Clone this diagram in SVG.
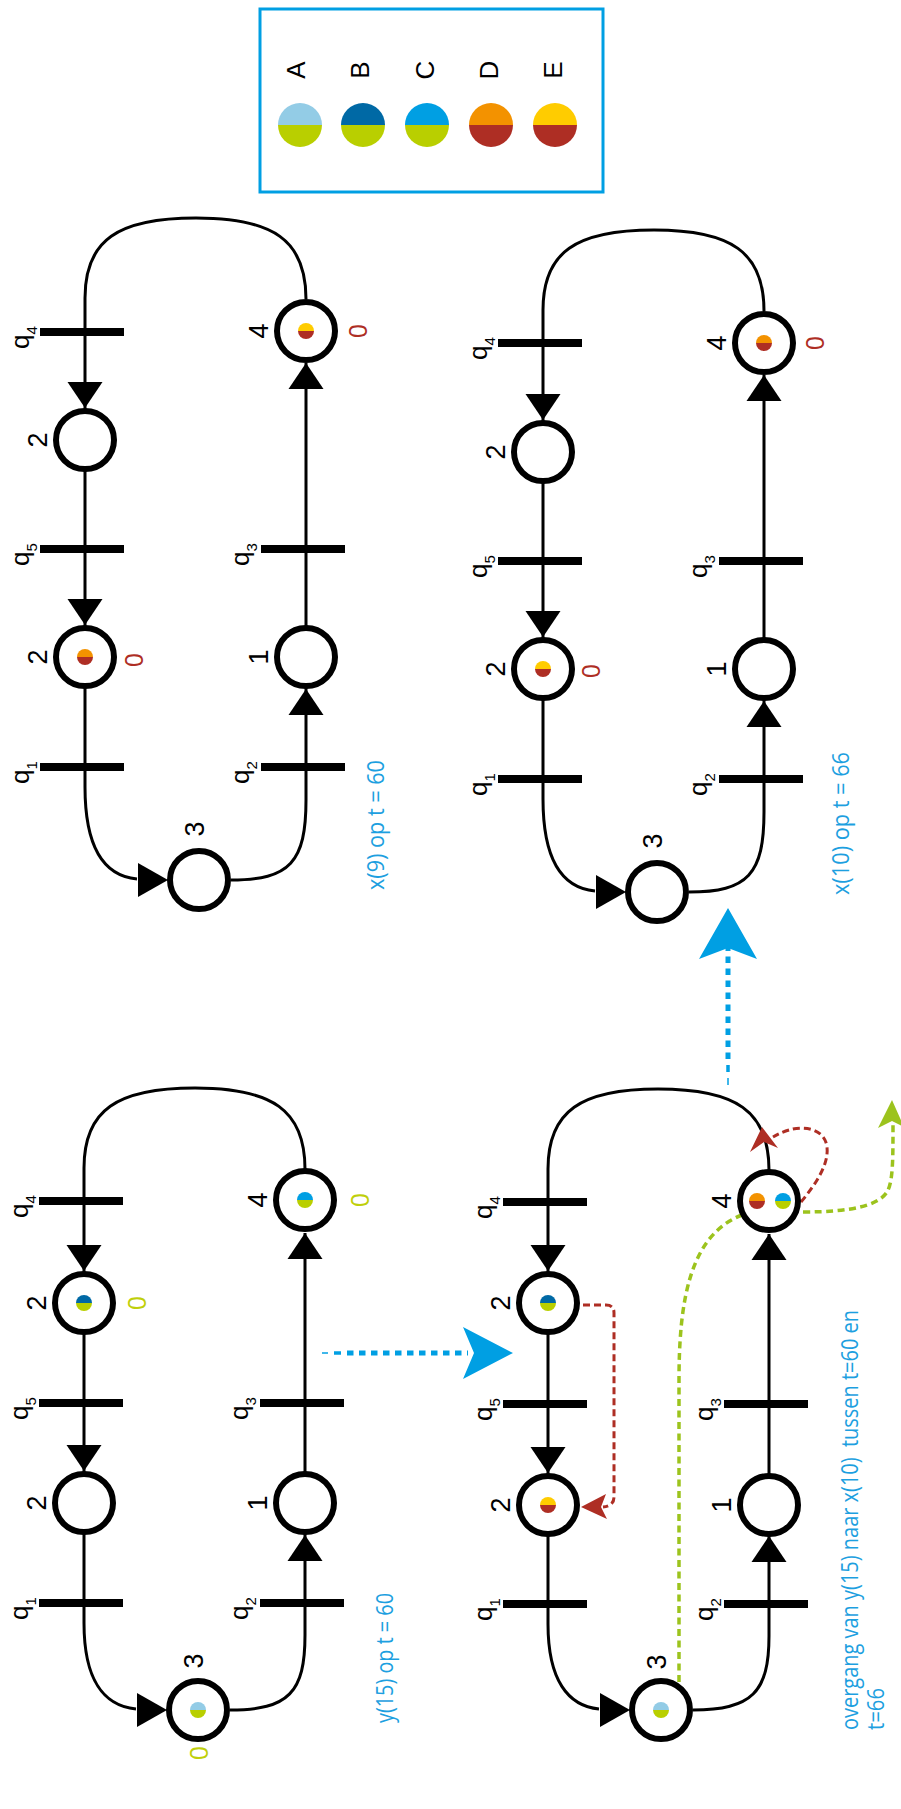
<svg xmlns="http://www.w3.org/2000/svg" xmlns:xlink="http://www.w3.org/1999/xlink" width="901" height="1809" viewBox="0 0 901 1809">
<style>
.ln{fill:none;stroke:#000;stroke-width:3}
.ah{fill:#000}
.pl{fill:#fff;stroke:#000;stroke-width:6}
.bar{fill:#000}
.lb{font-family:"Liberation Sans",Arial,sans-serif;font-size:27px;fill:#000}
.ql{font-family:"Liberation Sans",Arial,sans-serif;font-size:26px;fill:#000}
.sb{font-size:15px}
.lg{font-family:"Liberation Sans",Arial,sans-serif;font-size:26px;fill:#000}
.zr{font-family:"Open Sans","Liberation Sans",sans-serif;font-size:25px;fill:#ae2e24}
.zg{font-family:"Open Sans","Liberation Sans",sans-serif;font-size:25px;fill:#bfcf0a}
.tt{font-family:"Open Sans","Liberation Sans",sans-serif;font-size:24px;fill:#1d9fe0}
.bl{fill:none;stroke:#009fe3}
.rd{fill:none;stroke:#ae2e24;stroke-width:3;stroke-dasharray:7 4}
.gr{fill:none;stroke:#9cc31d;stroke-width:3.5;stroke-dasharray:7 4.5}
</style>
<defs>
<g id="tkA"><path d="M-8,0A8,8 0 0 1 8,0Z" fill="#93cce6"/><path d="M-8,0A8,8 0 0 0 8,0Z" fill="#b9cf00"/></g>
<g id="tkB"><path d="M-8,0A8,8 0 0 1 8,0Z" fill="#0069a5"/><path d="M-8,0A8,8 0 0 0 8,0Z" fill="#b9cf00"/></g>
<g id="tkC"><path d="M-8,0A8,8 0 0 1 8,0Z" fill="#009fe3"/><path d="M-8,0A8,8 0 0 0 8,0Z" fill="#b9cf00"/></g>
<g id="tkD"><path d="M-8,0A8,8 0 0 1 8,0Z" fill="#f39200"/><path d="M-8,0A8,8 0 0 0 8,0Z" fill="#ae2e24"/></g>
<g id="tkE"><path d="M-8,0A8,8 0 0 1 8,0Z" fill="#ffcc00"/><path d="M-8,0A8,8 0 0 0 8,0Z" fill="#ae2e24"/></g>
</defs>
<rect width="901" height="1809" fill="#fff"/>

<!-- legend -->
<g id="legend">
<rect x="260" y="9" width="343" height="183" fill="none" stroke="#009fe3" stroke-width="3"/>
<use xlink:href="#tkA" transform="translate(300,125) scale(2.75)"/>
<use xlink:href="#tkB" transform="translate(363,125) scale(2.75)"/>
<use xlink:href="#tkC" transform="translate(427,125) scale(2.75)"/>
<use xlink:href="#tkD" transform="translate(491,125) scale(2.75)"/>
<use xlink:href="#tkE" transform="translate(555,125) scale(2.75)"/>
<text class="lg" text-anchor="middle" transform="translate(305,70) rotate(-90)">A</text>
<text class="lg" text-anchor="middle" transform="translate(369,70) rotate(-90)">B</text>
<text class="lg" text-anchor="middle" transform="translate(434,70) rotate(-90)">C</text>
<text class="lg" text-anchor="middle" transform="translate(498,70) rotate(-90)">D</text>
<text class="lg" text-anchor="middle" transform="translate(562,70) rotate(-90)">E</text>
</g>

<!-- connectors -->
<g id="connectors">
<!-- net x(9) -->
<path class="ln" d="M137,879 C105,876 85,850 85,787 V298 C85,240 118,218 196,218 C273,218 306,240 306,299"/>
<path class="ln" d="M231,880 C290,880 306,862 306,800 V363"/>
<polygon class="ah" points="85,408 67.5,382 102.5,382"/>
<polygon class="ah" points="85,625 67.5,599 102.5,599"/>
<polygon class="ah" points="306,689 288.5,715 323.5,715"/>
<polygon class="ah" points="306,363 288.5,389 323.5,389"/>
<polygon class="ah" points="168,880 138,863 138,897"/>
<!-- net x(10) -->
<path class="ln" d="M595,891 C563,888 543,862 543,799 V310 C543,252 576,230 654,230 C731,230 764,252 764,311"/>
<path class="ln" d="M689,892 C748,892 764,874 764,812 V375"/>
<polygon class="ah" points="543,420 525.5,394 560.5,394"/>
<polygon class="ah" points="543,637 525.5,611 560.5,611"/>
<polygon class="ah" points="764,701 746.5,727 781.5,727"/>
<polygon class="ah" points="764,375 746.5,401 781.5,401"/>
<polygon class="ah" points="626,892 596,875 596,909"/>
<!-- net y(15) -->
<path class="ln" d="M136,1709 C104,1706 84,1680 84,1623 V1168 C84,1110 117,1088 195,1088 C272,1088 305,1110 305,1169"/>
<path class="ln" d="M230,1710 C289,1710 305,1692 305,1635 V1233"/>
<polygon class="ah" points="84,1271 66.5,1245 101.5,1245"/>
<polygon class="ah" points="84,1471 66.5,1445 101.5,1445"/>
<polygon class="ah" points="305,1535 287.5,1561 322.5,1561"/>
<polygon class="ah" points="305,1233 287.5,1259 322.5,1259"/>
<polygon class="ah" points="167,1710 137,1693 137,1727"/>
<!-- transition net -->
<path class="ln" d="M599,1709 C568,1706 548,1680 548,1624 V1169 C548,1111 581,1089 658,1089 C736,1089 769,1111 769,1170"/>
<path class="ln" d="M693,1710 C752,1710 769,1692 769,1636 V1234"/>
<polygon class="ah" points="548,1271 530.5,1245 565.5,1245"/>
<polygon class="ah" points="548,1473 530.5,1447 565.5,1447"/>
<polygon class="ah" points="769,1536 751.5,1562 786.5,1562"/>
<polygon class="ah" points="769,1234 751.5,1260 786.5,1260"/>
<polygon class="ah" points="630,1710 600,1693 600,1727"/>
<!-- token moves -->
<path class="rd" d="M583,1305 H606 Q614,1305 614,1313 V1497 Q614,1506 603,1507"/>
<path fill="#ae2e24" d="M581,1507 L606,1494 L601,1507 L607,1519Z"/>
<path class="rd" d="M801,1202 C815,1185 829,1165 827,1147 C825,1128 800,1121 773,1137"/>
<path fill="#ae2e24" d="M762,1127 L778,1148 L764,1142 L750,1152Z"/>
<path class="gr" d="M679,1682 V1380 C679,1300 690,1235 742,1215"/>
<path class="gr" d="M803,1212 C850,1212 878,1206 887,1192 C893,1182 893,1160 893,1124"/>
<path fill="#9cc31d" d="M892,1100 L904,1127 L892,1121 L878,1128Z"/>
<!-- state steps -->
<line class="bl" x1="322" y1="1353" x2="328" y2="1353" stroke-width="1.5"/>
<line class="bl" x1="334" y1="1353" x2="341" y2="1353" stroke-width="3.5"/>
<line class="bl" x1="347" y1="1353" x2="468" y2="1353" stroke-width="5" stroke-dasharray="6.5 5.5"/>
<path fill="#009fe3" d="M513,1353 L463,1327 L474,1353 L463,1379Z"/>
<line class="bl" x1="728" y1="1085" x2="728" y2="1078" stroke-width="1.5"/>
<line class="bl" x1="728" y1="1072" x2="728" y2="1065" stroke-width="3.5"/>
<line class="bl" x1="728" y1="1059" x2="728" y2="946" stroke-width="5" stroke-dasharray="6.5 5.5"/>
<path fill="#009fe3" d="M728,908 L757,959 L728,948 L699,959Z"/>
</g>

<!-- net x(9) op t = 60 -->
<g id="x9-p4"><circle class="pl" cx="306" cy="331" r="29"/><use xlink:href="#tkE" x="306" y="331"/><text class="lb" text-anchor="middle" transform="translate(268,331) rotate(-90)">4</text><text class="zr" text-anchor="middle" transform="translate(367,331) rotate(-90)">0</text></g>
<g id="x9-p2a"><circle class="pl" cx="85" cy="440" r="29"/><text class="lb" text-anchor="middle" transform="translate(47,440) rotate(-90)">2</text></g>
<g id="x9-p2b"><circle class="pl" cx="85" cy="657" r="29"/><use xlink:href="#tkD" x="85" y="657"/><text class="lb" text-anchor="middle" transform="translate(47,657) rotate(-90)">2</text><text class="zr" text-anchor="middle" transform="translate(143,660) rotate(-90)">0</text></g>
<g id="x9-p1"><circle class="pl" cx="306" cy="657" r="29"/><text class="lb" text-anchor="middle" transform="translate(268,657) rotate(-90)">1</text></g>
<g id="x9-p3"><circle class="pl" cx="199" cy="880" r="29"/><text class="lb" text-anchor="middle" transform="translate(204,829) rotate(-90)">3</text></g>
<g id="x9-q4"><rect class="bar" x="40" y="328" width="84" height="8"/><text class="ql" transform="translate(29,349) rotate(-90)">q<tspan class="sb" dy="8">4</tspan></text></g>
<g id="x9-q5"><rect class="bar" x="40" y="545" width="84" height="8"/><text class="ql" transform="translate(29,566) rotate(-90)">q<tspan class="sb" dy="8">5</tspan></text></g>
<g id="x9-q1"><rect class="bar" x="40" y="763" width="84" height="8"/><text class="ql" transform="translate(29,784) rotate(-90)">q<tspan class="sb" dy="8">1</tspan></text></g>
<g id="x9-q3"><rect class="bar" x="261" y="545" width="84" height="8"/><text class="ql" transform="translate(249,566) rotate(-90)">q<tspan class="sb" dy="8">3</tspan></text></g>
<g id="x9-q2"><rect class="bar" x="261" y="763" width="84" height="8"/><text class="ql" transform="translate(249,784) rotate(-90)">q<tspan class="sb" dy="8">2</tspan></text></g>
<text class="tt" transform="translate(384,890) rotate(-90)" textLength="130" lengthAdjust="spacingAndGlyphs">x(9) op t = 60</text>

<!-- net x(10) op t = 66 -->
<g id="x10-p4"><circle class="pl" cx="764" cy="343" r="29"/><use xlink:href="#tkD" x="764" y="343"/><text class="lb" text-anchor="middle" transform="translate(726,343) rotate(-90)">4</text><text class="zr" text-anchor="middle" transform="translate(824,343) rotate(-90)">0</text></g>
<g id="x10-p2a"><circle class="pl" cx="543" cy="452" r="29"/><text class="lb" text-anchor="middle" transform="translate(505,452) rotate(-90)">2</text></g>
<g id="x10-p2b"><circle class="pl" cx="543" cy="669" r="29"/><use xlink:href="#tkE" x="543" y="669"/><text class="lb" text-anchor="middle" transform="translate(505,669) rotate(-90)">2</text><text class="zr" text-anchor="middle" transform="translate(600,671) rotate(-90)">0</text></g>
<g id="x10-p1"><circle class="pl" cx="764" cy="669" r="29"/><text class="lb" text-anchor="middle" transform="translate(726,669) rotate(-90)">1</text></g>
<g id="x10-p3"><circle class="pl" cx="657" cy="892" r="29"/><text class="lb" text-anchor="middle" transform="translate(662,841) rotate(-90)">3</text></g>
<g id="x10-q4"><rect class="bar" x="498" y="339" width="84" height="8"/><text class="ql" transform="translate(487,360) rotate(-90)">q<tspan class="sb" dy="8">4</tspan></text></g>
<g id="x10-q5"><rect class="bar" x="498" y="557" width="84" height="8"/><text class="ql" transform="translate(487,578) rotate(-90)">q<tspan class="sb" dy="8">5</tspan></text></g>
<g id="x10-q1"><rect class="bar" x="498" y="775" width="84" height="8"/><text class="ql" transform="translate(487,796) rotate(-90)">q<tspan class="sb" dy="8">1</tspan></text></g>
<g id="x10-q3"><rect class="bar" x="719" y="557" width="84" height="8"/><text class="ql" transform="translate(707,578) rotate(-90)">q<tspan class="sb" dy="8">3</tspan></text></g>
<g id="x10-q2"><rect class="bar" x="719" y="775" width="84" height="8"/><text class="ql" transform="translate(707,796) rotate(-90)">q<tspan class="sb" dy="8">2</tspan></text></g>
<text class="tt" transform="translate(849,895) rotate(-90)" textLength="143" lengthAdjust="spacingAndGlyphs">x(10) op t = 66</text>

<!-- net y(15) op t = 60 -->
<g id="y15-p4"><circle class="pl" cx="305" cy="1200" r="29"/><use xlink:href="#tkC" x="305" y="1200"/><text class="lb" text-anchor="middle" transform="translate(267,1200) rotate(-90)">4</text><text class="zg" text-anchor="middle" transform="translate(369,1200) rotate(-90)">0</text></g>
<g id="y15-p2a"><circle class="pl" cx="84" cy="1303" r="29"/><use xlink:href="#tkB" x="84" y="1303"/><text class="lb" text-anchor="middle" transform="translate(46,1303) rotate(-90)">2</text><text class="zg" text-anchor="middle" transform="translate(146,1303) rotate(-90)">0</text></g>
<g id="y15-p2b"><circle class="pl" cx="84" cy="1503" r="29"/><text class="lb" text-anchor="middle" transform="translate(46,1503) rotate(-90)">2</text></g>
<g id="y15-p1"><circle class="pl" cx="305" cy="1503" r="29"/><text class="lb" text-anchor="middle" transform="translate(267,1503) rotate(-90)">1</text></g>
<g id="y15-p3"><circle class="pl" cx="198" cy="1710" r="29"/><use xlink:href="#tkA" x="198" y="1710"/><text class="lb" text-anchor="middle" transform="translate(203,1661) rotate(-90)">3</text><text class="zg" text-anchor="middle" transform="translate(208,1753) rotate(-90)">0</text></g>
<g id="y15-q4"><rect class="bar" x="39" y="1197" width="84" height="8"/><text class="ql" transform="translate(28,1218) rotate(-90)">q<tspan class="sb" dy="8">4</tspan></text></g>
<g id="y15-q5"><rect class="bar" x="39" y="1399" width="84" height="8"/><text class="ql" transform="translate(28,1420) rotate(-90)">q<tspan class="sb" dy="8">5</tspan></text></g>
<g id="y15-q1"><rect class="bar" x="39" y="1599" width="84" height="8"/><text class="ql" transform="translate(28,1620) rotate(-90)">q<tspan class="sb" dy="8">1</tspan></text></g>
<g id="y15-q3"><rect class="bar" x="260" y="1399" width="84" height="8"/><text class="ql" transform="translate(248,1420) rotate(-90)">q<tspan class="sb" dy="8">3</tspan></text></g>
<g id="y15-q2"><rect class="bar" x="260" y="1599" width="84" height="8"/><text class="ql" transform="translate(248,1620) rotate(-90)">q<tspan class="sb" dy="8">2</tspan></text></g>
<text class="tt" transform="translate(393,1723) rotate(-90)" textLength="130" lengthAdjust="spacingAndGlyphs">y(15) op t = 60</text>

<!-- transition net -->
<g id="tr-p4"><circle class="pl" cx="769" cy="1201" r="29"/><use xlink:href="#tkD" x="757" y="1201"/><use xlink:href="#tkC" x="783" y="1201"/><text class="lb" text-anchor="middle" transform="translate(731,1201) rotate(-90)">4</text></g>
<g id="tr-p2a"><circle class="pl" cx="548" cy="1303" r="29"/><use xlink:href="#tkB" x="548" y="1303"/><text class="lb" text-anchor="middle" transform="translate(510,1303) rotate(-90)">2</text></g>
<g id="tr-p2b"><circle class="pl" cx="548" cy="1505" r="29"/><use xlink:href="#tkE" x="548" y="1505"/><text class="lb" text-anchor="middle" transform="translate(510,1505) rotate(-90)">2</text></g>
<g id="tr-p1"><circle class="pl" cx="769" cy="1505" r="29"/><text class="lb" text-anchor="middle" transform="translate(731,1505) rotate(-90)">1</text></g>
<g id="tr-p3"><circle class="pl" cx="661" cy="1710" r="29"/><use xlink:href="#tkA" x="661" y="1710"/><text class="lb" text-anchor="middle" transform="translate(666,1662) rotate(-90)">3</text></g>
<g id="tr-q4"><rect class="bar" x="503" y="1198" width="84" height="8"/><text class="ql" transform="translate(492,1219) rotate(-90)">q<tspan class="sb" dy="8">4</tspan></text></g>
<g id="tr-q5"><rect class="bar" x="503" y="1400" width="84" height="8"/><text class="ql" transform="translate(492,1421) rotate(-90)">q<tspan class="sb" dy="8">5</tspan></text></g>
<g id="tr-q1"><rect class="bar" x="503" y="1600" width="84" height="8"/><text class="ql" transform="translate(492,1621) rotate(-90)">q<tspan class="sb" dy="8">1</tspan></text></g>
<g id="tr-q3"><rect class="bar" x="724" y="1400" width="84" height="8"/><text class="ql" transform="translate(713,1421) rotate(-90)">q<tspan class="sb" dy="8">3</tspan></text></g>
<g id="tr-q2"><rect class="bar" x="724" y="1600" width="84" height="8"/><text class="ql" transform="translate(713,1621) rotate(-90)">q<tspan class="sb" dy="8">2</tspan></text></g>
<text class="tt" xml:space="preserve" transform="translate(858,1730) rotate(-90)" textLength="420" lengthAdjust="spacingAndGlyphs">overgang van y(15) naar x(10)  tussen t=60 en</text>
<text class="tt" transform="translate(884,1730) rotate(-90)" textLength="42" lengthAdjust="spacingAndGlyphs">t=66</text>
</svg>
